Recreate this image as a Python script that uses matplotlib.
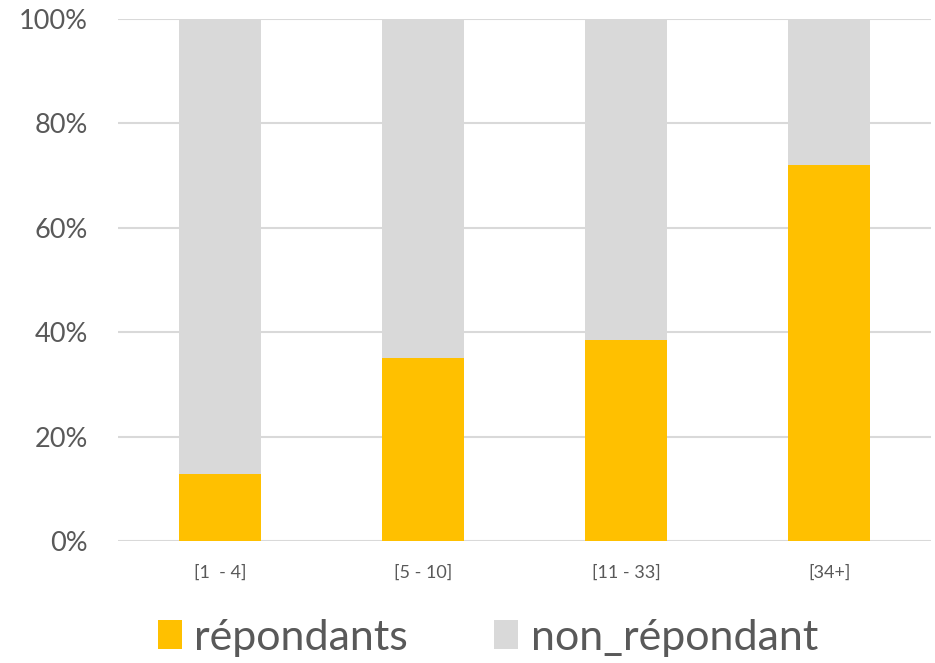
import numpy as np
import matplotlib.pyplot as plt
from matplotlib.ticker import PercentFormatter

categories = ["[1  - 4]", "[5 - 10]", "[11 - 33]", "[34+]"]
repondants = [12.8, 35.1, 38.5, 72.0]
non_repondant = [100 - v for v in repondants]

plt.rcParams['font.family'] = ['Lato', 'DejaVu Sans']
txt = "#595959"
orange = "#FFC000"
grey = "#D9D9D9"

fig = plt.figure(figsize=(9.35, 6.63), dpi=100)
ax = fig.add_axes([0.1267, 0.184, 0.8686, 0.7873])

x = np.arange(len(categories))
ax.bar(x, repondants, width=0.4, color=orange, label="répondants", zorder=2)
ax.bar(x, non_repondant, width=0.4, bottom=repondants, color=grey,
       label="non_répondant", zorder=2)

ax.set_xlim(-0.5, len(categories) - 0.5)
ax.set_ylim(0, 100)
ax.set_yticks(np.arange(0, 101, 20))
ax.yaxis.set_major_formatter(PercentFormatter(decimals=0))
ax.set_xticks(x)
ax.set_xticklabels(categories)
ax.grid(axis="y", color=grey, linewidth=1.5, zorder=0)
for s in ["top", "right", "left", "bottom"]:
    ax.spines[s].set_visible(False)
ax.tick_params(axis="y", length=0, labelsize=19.5, labelcolor=txt, pad=22)
ax.tick_params(axis="x", length=0, labelsize=13, labelcolor=txt, pad=17)

ax.legend(loc="center", bbox_to_anchor=(0.455, -0.185), ncol=2, frameon=False,
          fontsize=31, labelcolor=txt, handlelength=0.55, handleheight=0.65,
          handletextpad=0.3, columnspacing=2.0)

fig.savefig("out.png", dpi=100)
